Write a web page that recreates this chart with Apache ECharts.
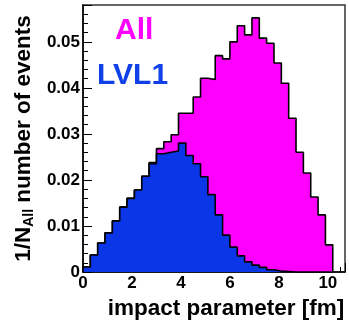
<!DOCTYPE html>
<html>
<head>
<meta charset="utf-8">
<script src="https://cdn.jsdelivr.net/npm/echarts@6/dist/echarts.min.js"></script>
<style>
html,body{margin:0;padding:0;background:#fff;}
#c{width:349px;height:329px;}
</style>
</head>
<body>
<div id="c"></div>
<script>
// bin edges of the histograms (impact parameter, fm)
var binEdges = [0,0.3,0.6,0.9,1.2,1.5,1.8,2.1,2.4,2.7,3.0,3.3,3.6,3.9,4.2,4.5,4.8,5.1,5.4,5.7,6.0,6.3,6.6,6.9,7.2,7.5,7.8,8.1,8.4,8.7,9.0,9.3,9.6,9.9,10.2];
// 1/N_All * events per bin, all events
var allEvents = [0.0011,0.0037,0.0063,0.0085,0.0111,0.0141,0.0160,0.0178,0.0208,0.0238,0.0268,0.0283,0.0298,0.0345,0.0345,0.0380,0.0421,0.0418,0.0470,0.0463,0.0500,0.0535,0.0515,0.0552,0.0508,0.0497,0.0454,0.0410,0.0334,0.0260,0.0215,0.0163,0.0124,0.0059];
// LVL1 triggered events
var lvl1Events = [0.0011,0.0037,0.0063,0.0085,0.0111,0.0141,0.0160,0.0178,0.0208,0.0235,0.0257,0.0260,0.0263,0.0280,0.0253,0.0235,0.0207,0.0168,0.0124,0.0080,0.0054,0.0035,0.0022,0.0015,0.0010,0.0005,0.0002,0.0001,0,0,0,0,0,0];
var seriesNames = ['All','LVL1'];
var xTitle = 'impact parameter [fm]';

function stepData(vals){
  var d = [[binEdges[0],0]];
  for (var i=0;i<vals.length;i++) d.push([binEdges[i], vals[i]]);
  d.push([binEdges[vals.length], vals[vals.length-1]]);
  d.push([binEdges[vals.length], 0]);
  return d;
}

var FONT = '"Liberation Sans", Arial, Helvetica, sans-serif';
var chart = echarts.init(document.getElementById('c'), null, {renderer:'canvas'});
chart.setOption({
  animation:false,
  backgroundColor:'#fff',
  grid:{left:83, top:5, right:4, bottom:57, containLabel:false, outerBoundsMode:'none', show:true, borderColor:'#333', borderWidth:1.5, backgroundColor:'transparent'},
  legend:[
    {data:[{name:seriesNames[0], textStyle:{color:'#ff00ff'}}], left:110, top:16, padding:0, icon:'none', itemWidth:0, itemHeight:0, selectedMode:false,
     textStyle:{fontSize:30, fontWeight:'bold', fontFamily:FONT}},
    {data:[{name:seriesNames[1], textStyle:{color:'#1040e8'}}], left:92, top:61, padding:0, icon:'none', itemWidth:0, itemHeight:0, selectedMode:false,
     textStyle:{fontSize:30, fontWeight:'bold', fontFamily:FONT}}
  ],
  xAxis:{
    type:'value', min:0, max:10.7, interval:2,
    name:xTitle, nameLocation:'middle', nameGap:15,
    nameTextStyle:{fontSize:22.5, fontWeight:'bold', fontFamily:FONT, color:'#000', padding:[0,0,0,24]},
    axisLine:{show:true, onZero:false, lineStyle:{color:'#000', width:1.5}},
    axisTick:{show:true, inside:true, length:9, lineStyle:{color:'#000', width:1}},
    minorTick:{show:true, splitNumber:4, length:5, lineStyle:{color:'#000', width:1}},
    axisLabel:{fontSize:17, fontWeight:'bold', fontFamily:FONT, color:'#000', margin:3, showMaxLabel:false},
    splitLine:{show:false}
  },
  yAxis:{
    type:'value', min:0, max:0.058, interval:0.01,
    name:'{a|1/N}{s|All}{a| number of events}', nameLocation:'middle', nameRotate:90, nameGap:24,
    nameTextStyle:{
      rich:{
        a:{fontSize:22.5, fontWeight:'bold', fontFamily:FONT, color:'#000', lineHeight:24, verticalAlign:'top'},
        s:{fontSize:14, fontWeight:'bold', fontFamily:FONT, color:'#000', lineHeight:14, verticalAlign:'bottom', padding:[17,0,0,0]}
      }
    },
    axisLine:{show:true, lineStyle:{color:'#000', width:1.5}},
    axisTick:{show:true, inside:true, length:9, lineStyle:{color:'#000', width:1}},
    minorTick:{show:true, splitNumber:5, length:5, lineStyle:{color:'#000', width:1}},
    axisLabel:{fontSize:17, fontWeight:'bold', fontFamily:FONT, color:'#000', margin:3, showMaxLabel:false,
      formatter:function(v){return v===0?'0':(+v.toFixed(2)).toString();}},
    splitLine:{show:false}
  },
  series:[
    {name:seriesNames[0], type:'line', step:'end', symbol:'none', data:stepData(allEvents),
     lineStyle:{color:'#000', width:1.6}, itemStyle:{color:'#ff00ff'}, areaStyle:{color:'#ff00ff', opacity:1, origin:'start'}, z:2},
    {name:seriesNames[1], type:'line', step:'end', symbol:'none', data:stepData(lvl1Events),
     lineStyle:{color:'#000', width:1.6}, itemStyle:{color:'#0a36e8'}, areaStyle:{color:'#0a36e8', opacity:1, origin:'start'}, z:3}
  ]
});
</script>
</body>
</html>
